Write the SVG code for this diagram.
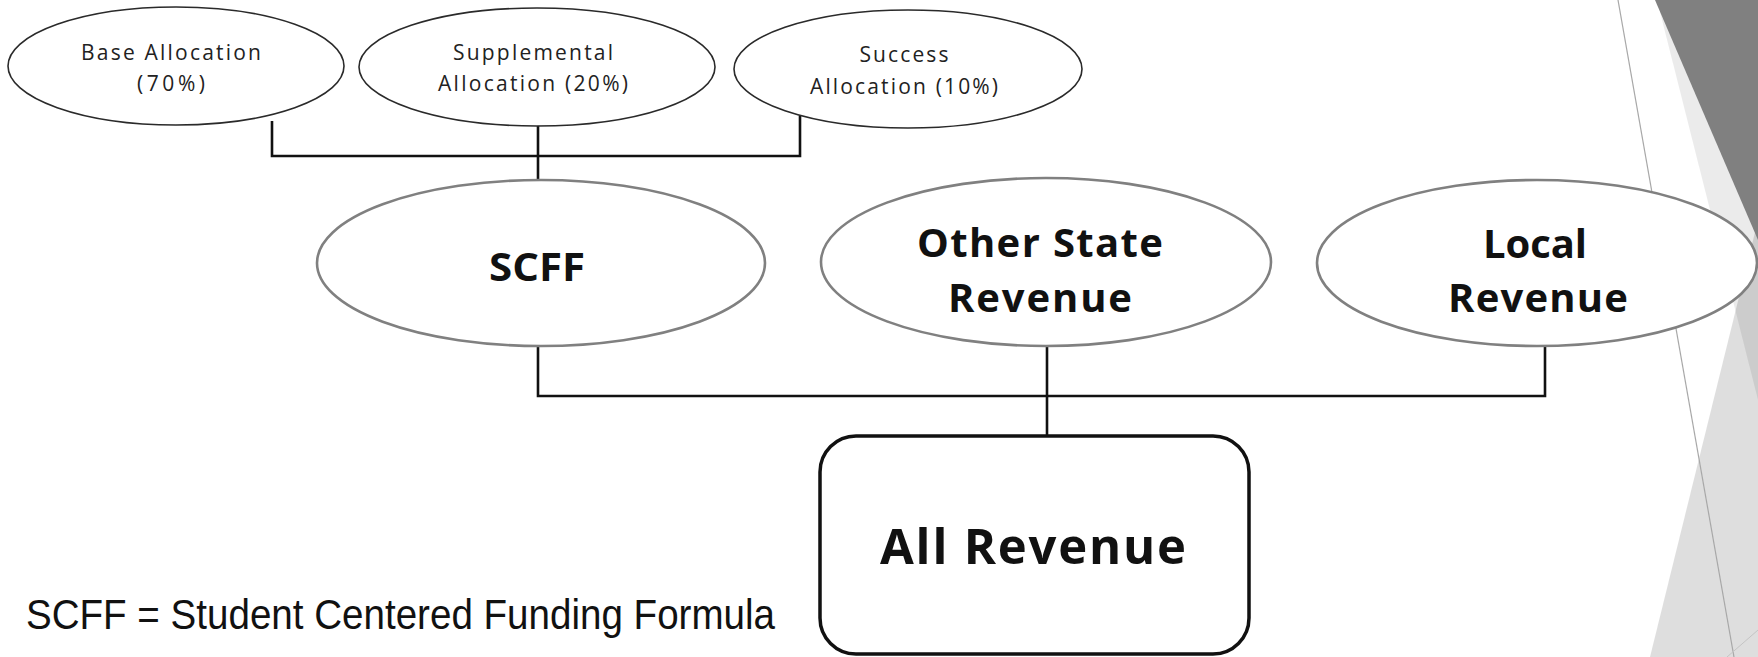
<svg xmlns="http://www.w3.org/2000/svg" width="1758" height="657" viewBox="0 0 1758 657">
<style>
.small{font-family:"Open Sans","Liberation Sans",sans-serif;font-size:21px;fill:#222;text-anchor:middle}
.big{font-family:"Open Sans","Liberation Sans",sans-serif;font-weight:bold;font-size:40px;fill:#111;text-anchor:middle}
.top{fill:#fff;stroke:#2a2a2a;stroke-width:1.6}
.mid{fill:#fff;stroke:#808080;stroke-width:2.6}
.conn{fill:none;stroke:#111;stroke-width:2.6}
</style>
<rect width="1758" height="657" fill="#fff"/>
<g id="decoration">
<polygon points="1657,0 1758,0 1758,400" fill="#000" fill-opacity="0.08"/>
<polygon points="1650,657 1758,220 1758,657" fill="#000" fill-opacity="0.13"/>
<polygon points="1655,0 1758,0 1758,240" fill="#808080"/>
<line x1="1618" y1="0" x2="1734" y2="657" stroke="#a8a8a8" stroke-width="1.2"/>
<line x1="1727" y1="657" x2="1758" y2="630" stroke="#c4c4c4" stroke-width="1"/>
</g>
<g id="connectors">
<polyline class="conn" points="272,121 272,156 800,156 800,116"/>
<line class="conn" x1="538" y1="125" x2="538" y2="181"/>
<polyline class="conn" points="538,346 538,396 1545,396 1545,344"/>
<line class="conn" x1="1047" y1="346" x2="1047" y2="436"/>
</g>
<g id="base-allocation">
<ellipse class="top" cx="176" cy="66" rx="168" ry="59"/>
<text class="small" x="171" y="60" textLength="180" lengthAdjust="spacing">Base Allocation</text>
<text class="small" x="171" y="91" textLength="68" lengthAdjust="spacing">(70%)</text>
</g>
<g id="supplemental-allocation">
<ellipse class="top" cx="537" cy="67" rx="178" ry="59"/>
<text class="small" x="533" y="60" textLength="160" lengthAdjust="spacing">Supplemental</text>
<text class="small" x="533" y="91" textLength="190" lengthAdjust="spacing">Allocation (20%)</text>
</g>
<g id="success-allocation">
<ellipse class="top" cx="908" cy="69" rx="174" ry="59"/>
<text class="small" x="904" y="62" textLength="89" lengthAdjust="spacing">Success</text>
<text class="small" x="904" y="94" textLength="188" lengthAdjust="spacing">Allocation (10%)</text>
</g>
<g id="scff">
<ellipse class="mid" cx="541" cy="263" rx="224" ry="83"/>
<text class="big" x="537" y="281" textLength="96" lengthAdjust="spacingAndGlyphs">SCFF</text>
</g>
<g id="other-state-revenue">
<ellipse class="mid" cx="1046" cy="262" rx="225" ry="84"/>
<text class="big" x="1040" y="257" textLength="246" lengthAdjust="spacing">Other State</text>
<text class="big" x="1040" y="312" textLength="184" lengthAdjust="spacing">Revenue</text>
</g>
<g id="local-revenue">
<ellipse class="mid" cx="1537" cy="263" rx="220" ry="83"/>
<text class="big" x="1535" y="258" textLength="104" lengthAdjust="spacing">Local</text>
<text class="big" x="1538" y="312" textLength="180" lengthAdjust="spacing">Revenue</text>
</g>
<g id="all-revenue">
<rect x="820" y="436" width="429" height="218" rx="36" ry="36" fill="#fff" stroke="#111" stroke-width="3.5"/>
<text class="big" x="1033" y="564" style="font-size:49px" textLength="306" lengthAdjust="spacing">All Revenue</text>
</g>
<g id="footnote">
<text x="26" y="629" font-family="Liberation Sans, sans-serif" font-size="43" fill="#111" textLength="749" lengthAdjust="spacingAndGlyphs">SCFF = Student Centered Funding Formula</text>
</g>
</svg>
